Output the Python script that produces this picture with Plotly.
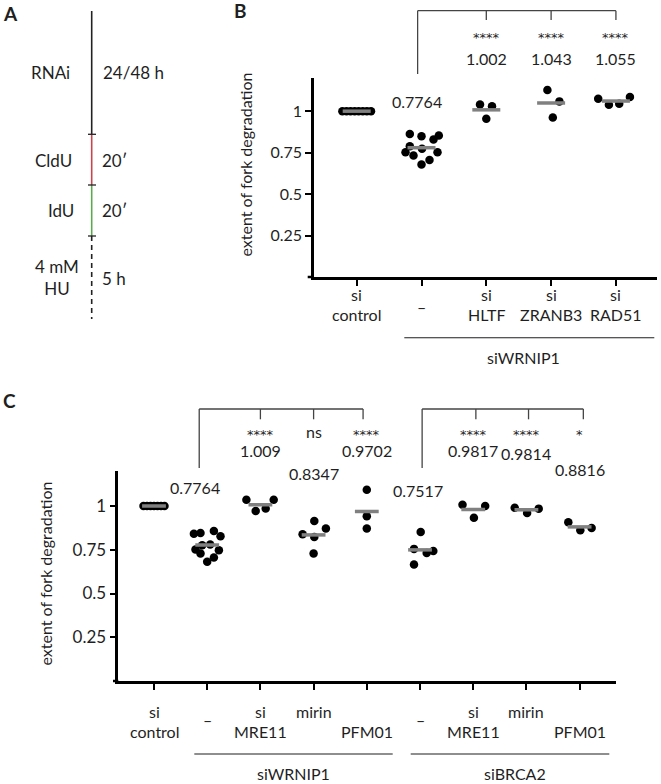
import numpy as np
import plotly.graph_objects as go

W, H = 661, 784
FONT = "Lato"
STAR_FONT = "DejaVu Sans"
INK = "#1f1f1f"
GREY = "#808080"

# ---------------- Panel B data ----------------
b_labels = ["si\ncontrol", "–", "si\nHLTF", "si\nZRANB3", "si\nRAD51"]
b_sicontrol = [1.0, 1.0, 1.0, 1.0, 1.0, 1.0, 1.0, 1.0]
b_siwrnip1 = [0.863, 0.849, 0.853, 0.829, 0.788, 0.752, 0.732, 0.774, 0.752, 0.706, 0.679]
b_hltf = [1.040, 1.030, 0.954]
b_zranb3 = [1.127, 1.059, 0.962]
b_rad51 = [1.075, 1.039, 1.045, 1.085]
b_mean_text = ["", "0.7764", "1.002", "1.043", "1.055"]
b_signif = ["", "", "****", "****", "****"]
b_group_label = "siWRNIP1"

# ---------------- Panel C data ----------------
c_labels = ["si\ncontrol", "–", "si\nMRE11", "mirin\n", "\nPFM01",
            "–", "si\nMRE11", "mirin\n", "\nPFM01"]
c_sicontrol = [1.0, 1.0, 1.0, 1.0, 1.0, 1.0, 1.0]
c_w_none = [0.842, 0.846, 0.857, 0.827, 0.751, 0.780, 0.747, 0.728, 0.706, 0.681, 0.776]
c_w_mre11 = [1.036, 0.971, 0.986, 1.036]
c_w_mirin = [0.838, 0.914, 0.871, 0.823, 0.728]
c_w_pfm01 = [1.093, 0.941, 0.872]
c_b_none = [0.851, 0.755, 0.732, 0.743, 0.666]
c_b_mre11 = [1.007, 0.933, 1.000]
c_b_mirin = [0.990, 0.960, 0.985]
c_b_pfm01 = [0.907, 0.861, 0.874]
c_mean_text = ["", "0.7764", "1.009", "0.8347", "0.9702", "0.7517", "0.9817", "0.9814", "0.8816"]
c_signif = ["", "", "****", "ns", "****", "", "****", "****", "*"]
c_group_labels = ["siWRNIP1", "siBRCA2"]

y_ticks = [0.25, 0.5, 0.75, 1]
y_ticktext = ["0.25", "0.5", "0.75", "1"]

# ---------------- layout helpers (pixel placement) ----------------
def px(x):
    return x / W

def py(y):
    return 1 - y / H

# horizontal scatter offsets of dots, in pixels (layout only)
b_jitter = [
    [-14.3, -10.2, -6.1, -2.0, 2.0, 6.1, 10.2, 14.3],
    [-11.7, 0, 17.3, 12.0, -11.7, -16.0, -8.0, 0.5, 16.0, 8.0, 0],
    [-6.3, 5.7, 0],
    [-3.7, 8.3, 1.7],
    [-17.7, -7.0, 3.3, 14.0],
]
c_jitter = [
    [-10.5, -7.0, -3.5, 0, 3.5, 7.0, 10.5],
    [-13.3, -6.7, 6.7, 13.3, -11.7, 3.0, 11.7, -6.7, 6.7, 0, -5.0],
    [-14.0, -4.7, 5.3, 13.3],
    [-11.0, 0.7, 12.3, 0.7, 0],
    [0, 0, 0],
    [0.7, -6.0, 6.7, 13.3, -6.0],
    [-10.7, 0.7, 12.0],
    [-11.7, 0.7, 12.3],
    [-11.3, 0.7, 12.0],
]

b_groups = [b_sicontrol, b_siwrnip1, b_hltf, b_zranb3, b_rad51]
c_groups = [c_sicontrol, c_w_none, c_w_mre11, c_w_mirin, c_w_pfm01,
            c_b_none, c_b_mre11, c_b_mirin, c_b_pfm01]

B_SP = 64.8   # px per category in panel B
C_SP = 53.2   # px per category in panel C

fig = go.Figure()

def add_groups(groups, jitter, sp, xa, ya, mean_len):
    for i, vals in enumerate(groups):
        xs = [i + j / sp for j in jitter[i]]
        fig.add_trace(go.Scatter(
            x=xs, y=vals, mode="markers", xaxis=xa, yaxis=ya,
            marker=dict(size=8.5, color="black", line=dict(width=0)),
            showlegend=False, hoverinfo="skip"))
    for i, vals in enumerate(groups):
        fig.add_trace(go.Scatter(
            x=[i], y=[float(np.mean(vals))], mode="markers", xaxis=xa, yaxis=ya,
            marker=dict(symbol="line-ew", size=mean_len, color=GREY,
                        line=dict(width=3.5, color=GREY)),
            showlegend=False, hoverinfo="skip"))

add_groups(b_groups, b_jitter, B_SP, "x", "y", 20)
add_groups(c_groups, c_jitter, C_SP, "x2", "y2", 17)

axis_common = dict(showgrid=False, zeroline=False, showline=True, linecolor="black",
                   linewidth=2.5, ticks="outside", ticklen=6, tickwidth=2,
                   tickcolor="black")

fig.update_layout(
    width=W, height=H, margin=dict(l=0, r=0, t=0, b=0),
    paper_bgcolor="white", plot_bgcolor="white",
    font=dict(family=FONT, color=INK, size=16),
    xaxis=dict(domain=[px(314), px(657)], range=[-0.659, 4.634],
               tickvals=list(range(len(b_labels))), showticklabels=False,
               anchor="y", **axis_common),
    yaxis=dict(domain=[py(277), py(78)], range=[0, 1.2], tickvals=y_ticks,
               ticktext=y_ticktext, tickfont=dict(size=16, family=FONT, color=INK),
               anchor="x", **axis_common),
    xaxis2=dict(domain=[px(118.3), px(616)], range=[-0.671, 8.684],
                tickvals=list(range(len(c_labels))), showticklabels=False,
                anchor="y2", **axis_common),
    yaxis2=dict(domain=[py(681), py(471)], range=[0, 1.2], tickvals=y_ticks,
                ticktext=y_ticktext, tickfont=dict(size=17, family=FONT, color=INK),
                anchor="x2", **axis_common),
)

shapes = []
ann = []

def line(x0, y0, x1, y1, color=INK, width=1.3, xref="paper", dash=None):
    d = dict(type="line", x0=x0, y0=y0, x1=x1, y1=y1, xref=xref, yref="paper",
             line=dict(color=color, width=width))
    if dash:
        d["line"]["dash"] = dash
    shapes.append(d)

def text(x, y, t, size=16, xanchor="center", yanchor="middle", xref="paper",
         bold=False, angle=0, align="center", xshift=0, family=FONT):
    ann.append(dict(x=x, y=y, xref=xref, yref="paper", text=("<b>%s</b>" % t) if bold else t,
                    showarrow=False, xanchor=xanchor, yanchor=yanchor, textangle=angle,
                    align=align, xshift=xshift,
                    font=dict(family=family, size=size, color=INK)))

# x-axis stub left of y axis
line(px(307.7), py(277), px(314), py(277), color="black", width=2.5)
line(px(113), py(681), px(118.3), py(681), color="black", width=2.5)

# ---------- tick labels (as annotations) ----------
def cat_labels(labels, xref, y_top, y_bot, y_mid, size):
    for i, lab in enumerate(labels):
        if "\n" in lab:
            top, bot = lab.split("\n")
            if top:
                text(i, py(y_top), top, size=size, xref=xref)
            if bot:
                text(i, py(y_bot), bot, size=size, xref=xref)
        else:
            text(i, py(y_mid), lab, size=size, xref=xref)

cat_labels(b_labels, "x", 295, 314.3, 306, 16)
cat_labels(c_labels, "x2", 711.7, 731.7, 719.5, 16)

# ---------- panel B annotations ----------
for i in range(len(b_labels)):
    if b_signif[i]:
        text(i, py(37.5), b_signif[i], size=13, xref="x", family=STAR_FONT)
    if b_mean_text[i]:
        if i == 1:
            text(i - 0.07, py(102), b_mean_text[i], size=16, xref="x")
        else:
            text(i, py(58), b_mean_text[i], size=16, xref="x")

# bracket B
line(0.94, py(10.7), 4, py(10.7), xref="x", color="#444")
line(0.94, py(10.7), 0.94, py(74), xref="x", color="#444")
for k in [2, 3, 4]:
    line(k, py(10.7), k, py(20), xref="x", color="#444")

# group underline B
line(px(404.3), py(337.7), px(654.3), py(337.7), width=1.1)
text(px(523.3), py(357.7), b_group_label, size=16)

# y titles
text(px(245), py(164.5), "extent of fork degradation", size=16, angle=-90)
text(px(45), py(573.5), "extent of fork degradation", size=16, angle=-90)

# ---------- panel C annotations ----------
c_mean_y = [None, 487.7, 450, 473.3, 450, 490, 450, 453.3, 469.3]
c_mean_dx = [0, -0.23, 0, 0, 0, -0.03, 0, 0, 0]
for i in range(len(c_labels)):
    if c_signif[i]:
        if c_signif[i] == "ns":
            text(i, py(432), c_signif[i], size=16, xref="x2")
        else:
            text(i, py(434), c_signif[i], size=13, xref="x2", family=STAR_FONT)
    if c_mean_text[i]:
        text(i + c_mean_dx[i], py(c_mean_y[i]), c_mean_text[i], size=16, xref="x2")

# brackets C
for left, drops in [(0.85, [2, 3, 3.93]), (5.04, [6.05, 7.04, 8.07])]:
    line(left, py(409), drops[-1], py(409), xref="x2", color="#444")
    line(left, py(409), left, py(468), xref="x2", color="#444")
    for k in drops:
        line(k, py(409), k, py(419.3), xref="x2", color="#444")

line(px(194.3), py(754), px(392.7), py(754), width=1.1)
line(px(410.7), py(754), px(609.3), py(754), width=1.1)
text(px(293.3), py(773.3), c_group_labels[0], size=16)
text(px(515), py(773.3), c_group_labels[1], size=16)

# ---------- panel A: timeline ----------
TX = px(91.7)
line(TX, py(11), TX, py(134.3), color="#222", width=1.6)
line(TX, py(134.3), TX, py(185), color="#c9444c", width=1.6)
line(TX, py(185), TX, py(236), color="#5fa84f", width=1.6)
line(TX, py(236), TX, py(319), color="#222", width=1.6, dash="5px,4px")
for yy in [134.3, 185, 236]:
    line(px(88), py(yy), px(96), py(yy), color="#222", width=1.3)

text(px(72), py(72.7), "RNAi", size=17, xanchor="right")
text(px(100.5), py(72.7), "24/48 h", size=17, xanchor="left")
text(px(73.5), py(160.7), "CldU", size=17, xanchor="right")
text(px(100.5), py(160.7), "20′", size=17, xanchor="left")
text(px(76), py(210.7), "IdU", size=17, xanchor="right")
text(px(100.5), py(210.7), "20′", size=17, xanchor="left")
text(px(57), py(277.5), "4 mM<br>HU", size=17)
text(px(100.5), py(278.3), "5 h", size=17, xanchor="left")

# panel letters
text(px(1), py(13), "A", size=19, xanchor="left", bold=True)
text(px(232), py(10.5), "B", size=19, xanchor="left", bold=True)
text(px(1), py(400), "C", size=19, xanchor="left", bold=True)

fig.update_layout(shapes=shapes, annotations=ann)
fig.write_html("out.html",
               config={"displayModeBar": False},
               post_script="document.body.style.margin='0';"
                           "document.body.style.overflow='hidden';")
